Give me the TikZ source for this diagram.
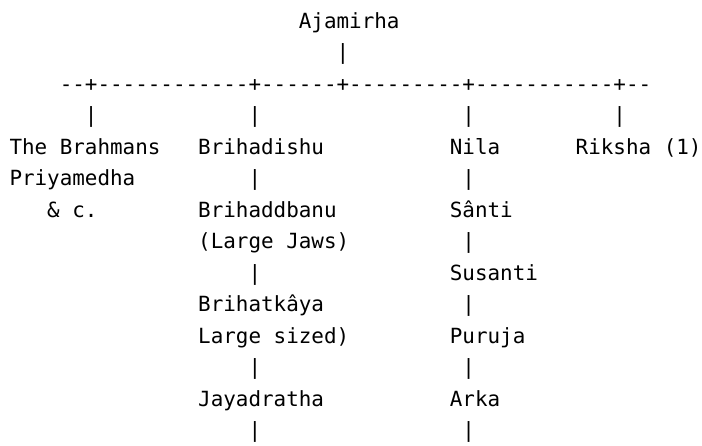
\documentclass[tikz,border=0pt]{standalone}
\usepackage{fontspec}
\setmonofont{DejaVu Sans Mono}
\tikzset{
  txt/.style={anchor=base west, inner sep=0pt, outer sep=0pt, text=black,
    font=\ttfamily\fontsize{20.9}{31.5}\selectfont},
  vbar/.style={txt}
}
\begin{document}
\begin{tikzpicture}
\fill[white] (0pt,0pt) rectangle (702pt,-445pt);
\useasboundingbox (0pt,0pt) rectangle (702pt,-445pt);
\begin{scope}[shift={(9.5pt,-28pt)}, x=12.583pt, y=-31.5pt]
% row 0-3
\node[txt] (ajamirha) at (23,0) {Ajamirha};
\node[vbar] (b1) at (26,1) {|};
\node[txt] (bus) at (4,2) {--+------------+------+---------+-----------+--};
\node[vbar] (b3a) at (6,3) {|};
\node[vbar] (b3b) at (19,3) {|};
\node[vbar] (b3c) at (36,3) {|};
\node[vbar] (b3d) at (48,3) {|};
% row 4
\node[txt] (brahmans) at (0,4) {The Brahmans};
\node[txt] (brihadishu) at (15,4) {Brihadishu};
\node[txt] (nila) at (35,4) {Nila};
\node[txt] (riksha) at (45,4) {Riksha (1)};
% row 5
\node[txt] (priyamedha) at (0,5) {Priyamedha};
\node[vbar] (b5a) at (19,5) {|};
\node[vbar] (b5b) at (36,5) {|};
% row 6
\node[txt] (etc) at (3,6) {\& c.};
\node[txt] (brihaddbanu) at (15,6) {Brihaddbanu};
\node[txt] (santi) at (35,6) {Sânti};
% row 7
\node[txt] (jaws) at (15,7) {(Large Jaws)};
\node[vbar] (b7b) at (36,7) {|};
% row 8
\node[vbar] (b8a) at (19,8) {|};
\node[txt] (susanti) at (35,8) {Susanti};
% row 9
\node[txt] (brihatkaya) at (15,9) {Brihatkâya};
\node[vbar] (b9b) at (36,9) {|};
% row 10
\node[txt] (sized) at (15,10) {Large sized)};
\node[txt] (puruja) at (35,10) {Puruja};
% row 11
\node[vbar] (b11a) at (19,11) {|};
\node[vbar] (b11b) at (36,11) {|};
% row 12
\node[txt] (jayadratha) at (15,12) {Jayadratha};
\node[txt] (arka) at (35,12) {Arka};
% row 13
\node[vbar] (b13a) at (19,13) {|};
\node[vbar] (b13b) at (36,13) {|};
\end{scope}
\end{tikzpicture}
\end{document}
